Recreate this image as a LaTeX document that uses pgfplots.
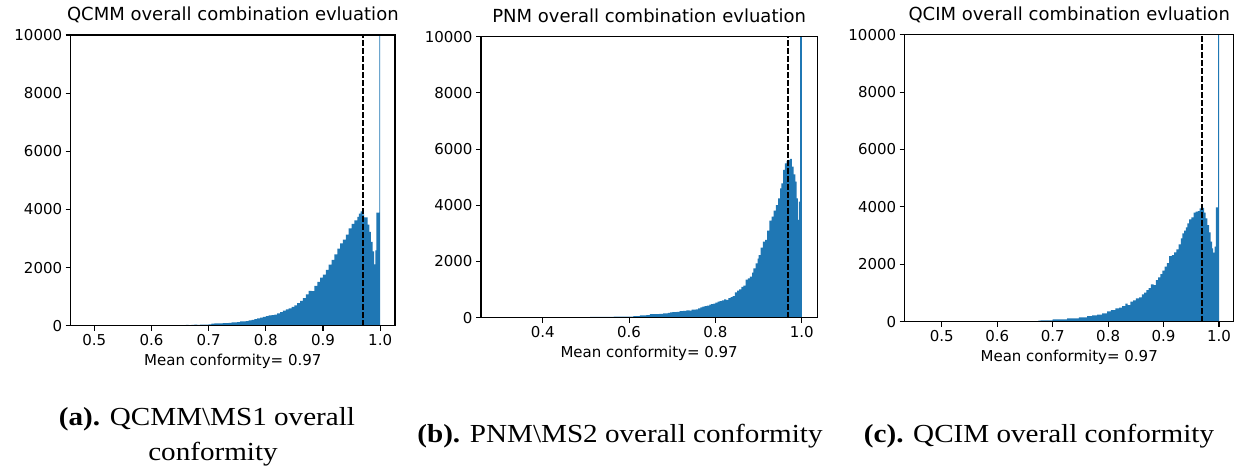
\documentclass[border=0pt]{standalone}
\usepackage{fontspec}
\setmainfont{DejaVu Sans}
\newfontfamily\capfont{Liberation Serif}
\usepackage{graphicx}
\usepackage{pgfplots}
\pgfplotsset{compat=1.18}
\definecolor{mplblue}{HTML}{1F77B4}

\pgfplotsset{
  panel/.style={
    scale only axis,
    anchor=south west,
    ymin=0, ymax=10000,
    ytick={0,2000,4000,6000,8000,10000},
    yticklabels={0,2000,4000,6000,8000,10000},
    scaled y ticks=false,
    scaled x ticks=false,
    tick pos=left,
    tick align=outside,
    major tick length=5pt,
    axis line style={line width=1.1pt},
    every tick/.append style={black, line width=1.1pt},
    tick label style={font=\fontsize{15}{18}\selectfont},
    title style={at={(0.5,1)}, anchor=base, yshift=8.5pt, font=\fontsize{18}{21}\selectfont},
    xlabel style={at={(axis description cs:0.5,0)}, anchor=base, yshift=-40pt, font=\fontsize{15}{18}\selectfont},
    xlabel={Mean conformity= 0.97},
    axis on top,
  },
  hbar/.style={const plot, fill=mplblue, draw=none},
  meanline/.style={black, line width=1.4pt, dash pattern=on 5.5pt off 2.5pt},
}

\newcommand{\subcap}[1]{\capfont\fontsize{26}{30}\selectfont\scalebox{1.12}[1]{#1}}

\begin{document}
\begin{tikzpicture}
\useasboundingbox (0,0) rectangle (1243pt,468pt);

% (a) QCMM
\begin{axis}[panel, at={(70.7pt,142.3pt)}, width=324.3pt, height=290.7pt,
  xmin=0.4587, xmax=1.026,
  xtick={0.5,0.6,0.7,0.8,0.9,1.0}, xticklabels={0.5,0.6,0.7,0.8,0.9,1.0},
  title={QCMM overall combination evluation}]
\addplot[hbar] coordinates {
(0.485,8) (0.49,5) (0.495,10) (0.50,6) (0.505,8) (0.51,5) (0.515,6) (0.52,4) (0.525,2)
(0.66,28) (0.665,22) (0.67,30) (0.675,35) (0.68,28) (0.685,35) (0.69,40) (0.695,38)
(0.70,45) (0.705,70) (0.71,78) (0.715,80) (0.72,84) (0.725,86) (0.73,90) (0.735,95)
(0.74,115) (0.745,110) (0.75,125) (0.755,150) (0.76,148) (0.765,160) (0.77,185) (0.775,200)
(0.78,225) (0.785,250) (0.79,275) (0.795,300) (0.80,330) (0.805,355) (0.81,362) (0.815,380)
(0.82,420) (0.825,470) (0.83,520) (0.835,560) (0.84,600) (0.845,650) (0.85,700) (0.855,780)
(0.86,850) (0.865,950) (0.87,1080) (0.875,1200) (0.88,1190) (0.885,1370) (0.89,1510) (0.895,1650)
(0.90,1760) (0.905,1920) (0.91,2100) (0.915,2260) (0.92,2450) (0.925,2650) (0.93,2830) (0.935,2960)
(0.94,3130) (0.945,3350) (0.95,3500) (0.955,3620) (0.96,3740) (0.963,3855) (0.966,3935) (0.969,3830)
(0.972,3730) (0.978,3475) (0.981,3225) (0.984,2880) (0.987,2560) (0.9895,2110) (0.9915,2590)
(0.9935,3890) (0.9985,15000) (1.0,15000)
} \closedcycle;
\addplot[meanline] coordinates {(0.97,0) (0.97,10000)};
\end{axis}

% (b) PNM
\begin{axis}[panel, at={(481pt,150.3pt)}, width=336.3pt, height=281pt,
  xmin=0.257, xmax=1.036,
  xtick={0.4,0.6,0.8,1.0}, xticklabels={0.4,0.6,0.8,1.0},
  title={PNM overall combination evluation}]
\addplot[hbar] coordinates {
(0.29,6) (0.34,2) (0.51,25) (0.565,35) (0.61,60) (0.625,83) (0.64,90) (0.648,130)
(0.66,128) (0.67,135) (0.679,155) (0.69,170) (0.695,190) (0.70,200) (0.71,205) (0.717,237)
(0.725,245) (0.733,260) (0.74,255) (0.745,285) (0.755,300) (0.76,330) (0.765,370) (0.77,390)
(0.775,415) (0.78,427) (0.786,463) (0.79,480) (0.795,500) (0.80,535) (0.805,570) (0.81,590)
(0.815,617) (0.82,653) (0.825,630) (0.83,700) (0.835,735) (0.84,771) (0.845,900) (0.85,960)
(0.855,1010) (0.86,1100) (0.865,1140) (0.87,1353) (0.875,1400) (0.88,1460) (0.885,1600) (0.888,1757)
(0.893,1935) (0.898,2100) (0.90,2230) (0.905,2490) (0.91,2705) (0.915,2765) (0.92,3100) (0.925,3455)
(0.93,3600) (0.935,3810) (0.94,4010) (0.945,4250) (0.95,4600) (0.953,4780) (0.957,5260) (0.961,5495)
(0.965,5580) (0.969,5615) (0.973,5650) (0.977,5380) (0.981,5100) (0.985,4845) (0.988,4250)
(0.991,3480) (0.9935,4130) (0.996,15000) (1.0,15000)
} \closedcycle;
\addplot[meanline] coordinates {(0.968,0) (0.968,10000)};
\end{axis}

% (c) QCIM
\begin{axis}[panel, at={(904.7pt,146.3pt)}, width=329pt, height=287pt,
  xmin=0.433, xmax=1.0265,
  xtick={0.5,0.6,0.7,0.8,0.9,1.0}, xticklabels={0.5,0.6,0.7,0.8,0.9,1.0},
  title={QCIM overall combination evluation}]
\addplot[hbar] coordinates {
(0.647,15) (0.674,40) (0.678,46) (0.70,81) (0.726,116) (0.747,151) (0.762,197) (0.771,220)
(0.78,244) (0.789,290) (0.798,360) (0.805,406) (0.813,464) (0.82,488) (0.825,546) (0.831,627)
(0.835,580) (0.84,697) (0.845,743) (0.85,813) (0.856,848) (0.861,952) (0.865,1010) (0.869,1103)
(0.873,1173) (0.877,1300) (0.882,1277) (0.886,1450) (0.89,1544) (0.894,1660) (0.898,1776) (0.902,1916)
(0.906,2043) (0.91,2287) (0.915,2322) (0.919,2415) (0.923,2520) (0.927,2694) (0.931,2900) (0.934,3077)
(0.937,3170) (0.94,3285) (0.943,3425) (0.946,3564) (0.95,3634) (0.954,3797) (0.958,3831) (0.962,3855)
(0.965,3947) (0.968,4005) (0.971,3970) (0.973,3797) (0.976,3600) (0.979,3367) (0.982,3110) (0.985,2786)
(0.9875,2554) (0.9895,2403) (0.992,2612) (0.9945,3980) (0.9985,15000) (1.0,15000)
} \closedcycle;
\addplot[meanline] coordinates {(0.969,0) (0.969,10000)};
\end{axis}

% sub-figure captions
\node[anchor=base] at (207pt,42pt) {\subcap{\textbf{(a).} QCMM\textbackslash MS1 overall}};
\node[anchor=base] at (213pt,7pt) {\subcap{conformity}};
\node[anchor=base] at (620pt,25pt) {\subcap{\textbf{(b).} PNM\textbackslash MS2 overall conformity}};
\node[anchor=base] at (1039pt,25pt) {\subcap{\textbf{(c).} QCIM overall conformity}};
\end{tikzpicture}
\end{document}
